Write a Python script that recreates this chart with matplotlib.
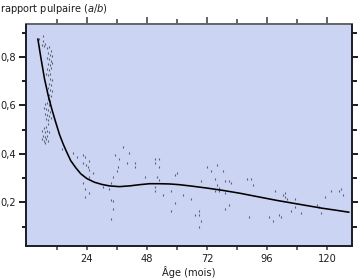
import matplotlib
matplotlib.use("Agg")
import matplotlib.pyplot as plt
from matplotlib.ticker import FixedLocator, FuncFormatter

# ---- data ----
early_age = [4.8, 6.4, 6.4, 7.2, 6.8, 6.0,
             8.0, 8.8, 9.6, 8.4, 9.2, 10.0, 8.0, 8.8, 9.6, 8.4, 9.2, 10.0, 8.0, 8.8, 9.6, 7.6, 8.4, 9.2,
             9.2, 10.0, 8.8, 9.6, 8.4, 9.2, 10.0, 8.8, 9.6, 8.4, 9.2,
             7.2, 8.0, 8.8, 6.8, 7.6, 8.4, 9.2, 7.2, 8.0, 8.8, 7.6, 8.4, 9.6,
             8.4, 6.8, 7.6, 6.0, 7.2, 8.0, 8.8, 6.4, 7.2, 8.0, 6.0, 6.8, 7.6, 8.4, 7.2]
early_ratio = [0.875, 0.885, 0.865, 0.855, 0.845, 0.85,
               0.835, 0.84, 0.825, 0.815, 0.81, 0.805, 0.795, 0.79, 0.785, 0.77, 0.765, 0.775, 0.75, 0.745, 0.755, 0.73, 0.725, 0.73,
               0.71, 0.705, 0.69, 0.685, 0.67, 0.665, 0.66, 0.645, 0.64, 0.625, 0.62,
               0.605, 0.61, 0.60, 0.59, 0.585, 0.58, 0.575, 0.565, 0.56, 0.555, 0.545, 0.54, 0.55,
               0.525, 0.505, 0.51, 0.495, 0.49, 0.495, 0.49, 0.475, 0.47, 0.475, 0.46, 0.455, 0.46, 0.455, 0.445]

late_age = [13.9, 18.5, 20.1, 22.5, 22.5, 23.2, 23.6, 24.9, 24.3, 24.9, 26.5, 24.9, 22.5, 23.3, 24.9, 23.3,
            30.5, 33.6, 32.9, 33.7, 34.5, 34.5, 33.7, 34.5, 35.8, 36.5, 35.3, 36.9, 38.5, 40.9, 40.1,
            43.3, 43.3, 47.3, 51.3, 52.9, 51.3, 52.9, 52.1, 52.9, 51.3, 51.3, 54.5, 57.7, 59.3, 60.1,
            59.3, 57.7, 62.5, 65.7, 67.3, 68.9, 68.9, 69.7, 68.9, 69.7, 72.1, 73.7, 76.1, 78.5, 75.3,
            76.1, 76.9, 75.3, 76.9, 79.3, 80.9, 81.7, 79.3, 80.9, 79.3, 88.1, 89.7, 90.5, 88.9,
            99.3, 102.5, 103.3, 103.3, 104.1, 107.3, 107.3, 105.7, 109.7, 96.9, 98.5, 100.9, 101.7,
            116.1, 116.9, 117.7, 119.3, 121.7, 124.9, 125.7, 126.5]
late_ratio = [0.422, 0.404, 0.388, 0.395, 0.363, 0.388, 0.353, 0.370, 0.346, 0.335, 0.321, 0.305, 0.282, 0.254, 0.239, 0.222,
              0.263, 0.280, 0.257, 0.211, 0.204, 0.171, 0.130, 0.305, 0.33, 0.345, 0.395, 0.378, 0.429, 0.404, 0.363,
              0.363, 0.346, 0.305, 0.378, 0.378, 0.363, 0.346, 0.305, 0.294, 0.263, 0.246, 0.229, 0.246, 0.315, 0.321,
              0.197, 0.164, 0.229, 0.212, 0.146, 0.164, 0.146, 0.123, 0.098, 0.287, 0.346, 0.330, 0.354, 0.330, 0.295,
              0.270, 0.261, 0.246, 0.246, 0.288, 0.288, 0.280, 0.239, 0.188, 0.171, 0.295, 0.295, 0.272, 0.139,
              0.247, 0.230, 0.239, 0.222, 0.214, 0.214, 0.181, 0.164, 0.156, 0.139, 0.123, 0.148, 0.139,
              0.189, 0.181, 0.156, 0.222, 0.247, 0.247, 0.255, 0.230]

curve_age = [4.3, 5.5, 7.0, 8.5, 10.0, 11.5, 13.0, 14.5, 16.0, 17.5, 19.5, 21.5, 24.0, 27.0, 30.0, 33.0,
             37.0, 41.0, 45.0, 49.0, 53.0, 57.0, 61.0, 66.0, 72.0, 78.0, 85.0, 92.0, 100.0, 109.0, 118.0,
             124.0, 129.0]
curve_ratio = [0.877, 0.80, 0.710, 0.640, 0.582, 0.530, 0.480, 0.440, 0.405, 0.372, 0.343, 0.318, 0.298,
               0.283, 0.274, 0.268, 0.265, 0.268, 0.273, 0.277, 0.277, 0.276, 0.273, 0.267, 0.259, 0.250,
               0.238, 0.224, 0.208, 0.192, 0.176, 0.167, 0.159]

x_major = [24, 48, 72, 96, 120]
x_minor = [12, 36, 60, 84, 108]
y_major = [0.2, 0.4, 0.6, 0.8]
y_minor = [0.1, 0.3, 0.5, 0.7, 0.9]

# ---- figure ----
plt.rcParams['font.family'] = ['DejaVu Sans']
plt.rcParams['mathtext.fontset'] = 'dejavusans'

fig = plt.figure(figsize=(3.6, 2.8), dpi=100)
ax = fig.add_axes([26/360, 34/280, 326/360, 221.5/280])
ax.set_facecolor('#cbd4f2')

dark = '#1c1c28'
gray = '#646464'
ptcol = '#5a5e6e'
txt = '#1e1e1e'
fs = 7.1

ax.plot(early_age + late_age, early_ratio + late_ratio, linestyle='none', marker='|',
        markersize=2.1, markeredgewidth=0.8, color=ptcol, zorder=2)
ax.plot(curve_age, curve_ratio, color='black', lw=1.15, zorder=3, solid_capstyle='butt')

ax.set_xlim(-0.4, 130)
ax.set_ylim(0.02, 0.934)

ax.xaxis.set_major_locator(FixedLocator(x_major))
ax.xaxis.set_minor_locator(FixedLocator(x_minor))
ax.yaxis.set_major_locator(FixedLocator(y_major))
ax.yaxis.set_minor_locator(FixedLocator(y_minor))
ax.yaxis.set_major_formatter(FuncFormatter(lambda v, p: ('%.1f' % v).replace('.', ',')))

ax.tick_params(axis='x', which='both', direction='out', length=2.9, width=1.4, color=gray,
               labelsize=fs, labelcolor=txt, pad=3.0, top=False)
ax.tick_params(axis='y', which='major', direction='out', length=4.7, width=1.4, color=dark,
               labelsize=fs, labelcolor=txt, pad=2.3, right=False)
ax.tick_params(axis='y', which='minor', direction='out', length=2.9, width=1.4, color=dark, right=False)

for s in ['left', 'bottom']:
    ax.spines[s].set_color(dark)
    ax.spines[s].set_linewidth(1.4)
ax.spines['top'].set_visible(False)
ax.spines['right'].set_visible(False)

# top axis
sx = ax.secondary_xaxis('top')
sx.xaxis.set_major_locator(FixedLocator(x_major))
sx.xaxis.set_minor_locator(FixedLocator(x_minor))
sx.tick_params(which='major', direction='out', length=5.0, width=1.4, color=gray, labeltop=False)
sx.tick_params(which='minor', direction='out', length=3.6, width=1.4, color=gray)
sx.spines['top'].set_color(gray)
sx.spines['top'].set_linewidth(1.4)

# right axis
sy = ax.secondary_yaxis('right')
sy.yaxis.set_major_locator(FixedLocator(y_major))
sy.yaxis.set_minor_locator(FixedLocator(y_minor))
sy.tick_params(which='major', direction='out', length=4.3, width=1.4, color=dark, labelright=False)
sy.tick_params(which='minor', direction='out', length=3.6, width=1.4, color=dark)
sy.spines['right'].set_color(dark)
sy.spines['right'].set_linewidth(1.4)

fig.text(0.5/360, 1 - 8.5/280, r'rapport pulpaire ($\mathit{a}$/$\mathit{b}$)', fontsize=fs,
         color=txt, ha='left', va='center')
fig.text(189/360, 1 - 272.5/280, 'Âge (mois)', fontsize=fs, color=txt, ha='center', va='center')

fig.savefig('out.png', dpi=100)
